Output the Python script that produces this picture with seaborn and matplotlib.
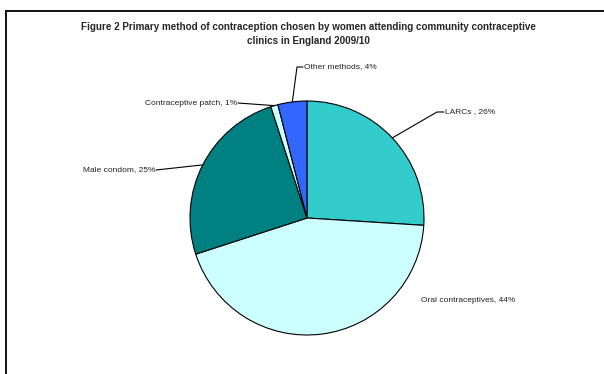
import numpy as np
import matplotlib.pyplot as plt
import seaborn as sns

methods = ["LARCs ", "Oral contraceptives", "Male condom", "Contraceptive patch", "Other methods"]
shares = [26, 44, 25, 1, 4]
colors = ["#33CCCC", "#CCFFFF", "#008080", "#CCFFFF", "#3366FF"]

sns.set_theme(style="white")
plt.rcParams["font.family"] = ["Liberation Sans", "DejaVu Sans"]

W, H = 604, 374
CX, CY, R = 307, 218, 117  # pie centre / radius in pixels


def px(x, y):
    # pixel position -> pie data units
    return (x - CX) / R, (CY - y) / R


fig = plt.figure(figsize=(W / 100, H / 100), dpi=100)

# chart frame (only left and top edges are inside the picture)
fig.add_artist(plt.Line2D([6 / W, 6 / W], [0, 1 - 11 / H], color="black", lw=1.3))
fig.add_artist(plt.Line2D([6 / W, 1], [1 - 11 / H, 1 - 11 / H], color="black", lw=1.3))

fig.text(308 / W, 1 - 34 / H,
         "Figure 2 Primary method of contraception chosen by women attending community contraceptive\n"
         "clinics in England 2009/10",
         ha="center", va="center", fontsize=7.1, fontweight="bold", linespacing=1.45)

ax = fig.add_axes([(CX - R) / W, (H - CY - R) / H, 2 * R / W, 2 * R / H])
wedges, _ = ax.pie(shares, colors=sns.color_palette(colors), startangle=90, counterclock=False,
                   wedgeprops=dict(edgecolor="black", linewidth=0.8))
ax.set_xlim(-1, 1)
ax.set_ylim(-1, 1)
ax.axis("off")

# label layout: text anchor, alignment, leader knee (pixels)
layout = [
    ((445, 112), "left", [(437, 112), (444, 112)]),
    ((421, 300), "left", None),
    ((155, 170), "right", [(156, 170)]),
    ((237, 103), "right", [(238, 103)]),
    ((304, 67), "left", [(297, 67), (303, 67)]),
]

for w, name, val, (pos, ha, knees) in zip(wedges, methods, shares, layout):
    mid = np.deg2rad((w.theta1 + w.theta2) / 2)
    edge = (np.cos(mid), np.sin(mid))
    if knees:
        pts = [edge] + [px(*k) for k in knees]
        ax.plot([p[0] for p in pts], [p[1] for p in pts], color="black", lw=0.8, clip_on=False)
    tx, ty = px(*pos)
    ax.text(tx, ty, f"{name}, {val}%", ha=ha, va="center", fontsize=6, color="#222222")

fig.savefig("out.png", dpi=100)
